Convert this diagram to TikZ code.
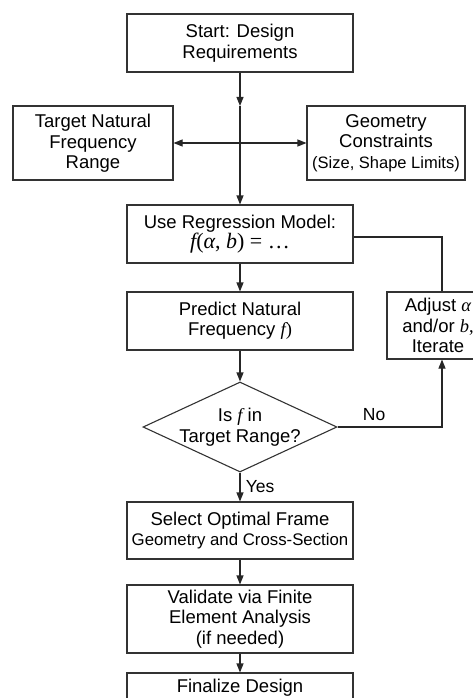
\documentclass[tikz,border=0pt]{standalone}
\usepackage{fontspec}
\setmainfont{Liberation Sans}
\newfontfamily\serifm{Liberation Serif}
\usetikzlibrary{shapes.geometric,arrows.meta}
\newcommand{\mi}[1]{{\serifm\itshape #1}}
\newcommand{\mr}[1]{{\serifm #1}}
\begin{document}
\begin{tikzpicture}[x=1pt,y=-1pt,
  line width=1.1pt,
  every node/.style={text=black},
  box/.style={draw=black!80, line width=1.1pt, align=center, inner sep=0pt,
     font=\fontsize{18.5}{20.5}\selectfont},
  arr/.style={draw=black!85, -{Triangle[length=9pt,width=7pt]}},
  ln/.style={draw=black!85}]
\useasboundingbox (0,0) rectangle (473,698);
\clip (0,0) rectangle (473,698);

\node[box, minimum width=226, minimum height=58] (start) at (240,43) {Start: Design\\Requirements};
\node[box, minimum width=160, minimum height=74] (target) at (93,143) {\strut Target Natural\\Frequency\\Range};
\node[box, minimum width=158, minimum height=74] (geom) at (386,143) {Geometry\\Constraints\\{\fontsize{16.5}{19}\selectfont (Size, Shape Limits)}};
\node[box, minimum width=226, minimum height=58] (regr) at (240,234) {Use Regression Model:\\{\fontsize{22}{22}\selectfont\mi{f}\mr{(}\mi{α}\mr{, }\mi{b}\mr{) = …}}};
\node[box, minimum width=226, minimum height=58] (pred) at (240,321) {Predict Natural\\Frequency \mi{f}\mr{)}};
\node[box, minimum width=110, minimum height=67] (adj) at (442,325.5) {};
\node[align=center, font=\fontsize{18.5}{20.5}\selectfont, inner sep=0pt] (adjtext) at (438,325.5) {Adjust \mi{α}\\and/or \mi{b}\mr{,}\\Iterate};
\node[diamond, draw=black!80, line width=1.1pt, minimum width=194, minimum height=90, inner sep=0pt] (dec) at (240,427) {};
\node[align=center, font=\fontsize{18.5}{20.5}\selectfont] (dectext) at (dec) {Is \mi{f} in\\Target Range?};
\node[box, minimum width=226, minimum height=57] (sel) at (240,530.5) {Select Optimal Frame\\{\fontsize{16.8}{19}\selectfont Geometry and Cross-Section}};
\node[box, minimum width=226, minimum height=68] (val) at (240,619) {Validate via Finite\\Element Analysis\\(if needed)};
\node[box, minimum width=226, minimum height=30] (fin) at (240,688) {Finalize Design};

\coordinate (c1) at (240,106);
\coordinate (cross) at (240,143);
\coordinate (rc) at (442,237);
\coordinate (dc) at (442,427);

\draw[arr] (start.south) -- (c1);
\draw[ln] (c1) -- (cross);
\draw[arr] (cross) -- (target.east);
\draw[arr] (cross) -- (geom.west);
\draw[arr] (cross) -- (regr.north);
\draw[arr] (regr.south) -- (pred.north);
\draw[arr] (pred.south) -- (dec.north);
\draw[arr] (dec.south) -- node[right, font=\fontsize{17.5}{20}\selectfont, xshift=2pt] (yes) {Yes} (sel.north);
\draw[arr] (dec.east) -- node[above, font=\fontsize{17.5}{20}\selectfont, pos=0.35, yshift=2pt] (no) {No} (dc) -- (adj.south);
\draw[ln] (regr.east |- rc) -- (rc) -- (adj.north);
\draw[arr] (sel.south) -- (val.north);
\draw[arr] (val.south) -- (fin.north);
\end{tikzpicture}
\end{document}
